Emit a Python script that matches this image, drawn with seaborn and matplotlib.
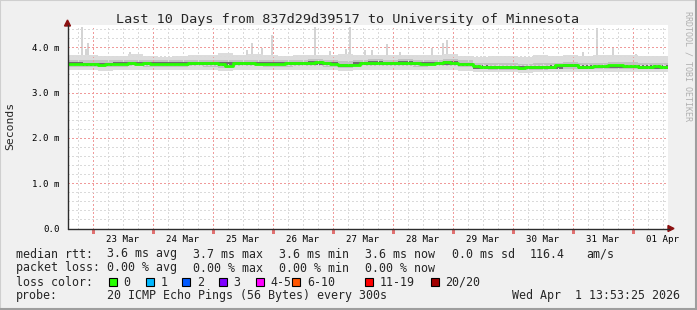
import numpy as np
import pandas as pd
import matplotlib
matplotlib.use("Agg")
import matplotlib.pyplot as plt
import seaborn as sns
from matplotlib.patches import Rectangle, Polygon
from matplotlib.lines import Line2D

# ---------------- data ----------------
start = pd.Timestamp("2026-03-22 13:53:25")
end = start + pd.Timedelta(days=10)

# median rtt (ms), 3-hour bins
median_ms = [3.64, 3.64, 3.64, 3.63, 3.62, 3.63, 3.64, 3.64, 3.66, 3.64,
             3.65, 3.64, 3.64, 3.64, 3.64, 3.64, 3.65, 3.66, 3.66, 3.65,
             3.63, 3.59, 3.66, 3.66, 3.66, 3.64, 3.64, 3.64, 3.64, 3.65,
             3.65, 3.66, 3.66, 3.67, 3.65, 3.64, 3.60, 3.60, 3.61, 3.66,
             3.66, 3.66, 3.66, 3.65, 3.66, 3.66, 3.66, 3.64, 3.64, 3.66,
             3.67, 3.66, 3.63, 3.63, 3.58, 3.56, 3.56, 3.56, 3.56, 3.56,
             3.54, 3.56, 3.57, 3.57, 3.57, 3.60, 3.62, 3.60, 3.57, 3.57,
             3.58, 3.58, 3.61, 3.60, 3.59, 3.59, 3.57, 3.57, 3.58, 3.57]

# smoke bands (ms), 6-hour bins
smoke_hi1 = [3.84, 3.82, 3.80, 3.80, 3.85, 3.80, 3.79, 3.80, 3.82, 3.84,
             3.88, 3.82, 3.86, 3.83, 3.80, 3.82, 3.84, 3.82, 3.85, 3.82,
             3.83, 3.84, 3.82, 3.83, 3.84, 3.86, 3.80, 3.78, 3.80, 3.80,
             3.79, 3.82, 3.80, 3.82, 3.80, 3.82, 3.84, 3.82, 3.80, 3.80]
smoke_lo1 = [3.50, 3.49, 3.48, 3.50, 3.50, 3.49, 3.50, 3.50, 3.50, 3.49,
             3.48, 3.50, 3.50, 3.50, 3.50, 3.50, 3.50, 3.49, 3.47, 3.50,
             3.50, 3.50, 3.50, 3.50, 3.50, 3.49, 3.48, 3.45, 3.45, 3.45,
             3.44, 3.45, 3.46, 3.46, 3.45, 3.46, 3.46, 3.45, 3.46, 3.46]
smoke_hi2 = [3.72, 3.71, 3.71, 3.72, 3.73, 3.72, 3.72, 3.72, 3.73, 3.73,
             3.72, 3.73, 3.73, 3.72, 3.72, 3.73, 3.74, 3.72, 3.70, 3.73,
             3.74, 3.73, 3.74, 3.73, 3.73, 3.74, 3.72, 3.66, 3.65, 3.65,
             3.64, 3.65, 3.66, 3.68, 3.66, 3.66, 3.68, 3.67, 3.66, 3.66]
smoke_lo2 = [3.57, 3.56, 3.56, 3.57, 3.58, 3.57, 3.57, 3.57, 3.58, 3.57,
             3.55, 3.58, 3.58, 3.57, 3.57, 3.58, 3.58, 3.57, 3.54, 3.58,
             3.58, 3.58, 3.58, 3.57, 3.58, 3.58, 3.56, 3.51, 3.50, 3.50,
             3.49, 3.50, 3.51, 3.53, 3.51, 3.51, 3.52, 3.52, 3.51, 3.51]
smoke_hi3 = [3.67, 3.66, 3.66, 3.67, 3.68, 3.67, 3.67, 3.67, 3.68, 3.68,
             3.67, 3.68, 3.68, 3.67, 3.67, 3.68, 3.69, 3.67, 3.64, 3.68,
             3.69, 3.68, 3.69, 3.68, 3.68, 3.69, 3.66, 3.60, 3.59, 3.59,
             3.58, 3.59, 3.60, 3.63, 3.60, 3.61, 3.62, 3.61, 3.60, 3.60]
smoke_lo3 = [3.60, 3.59, 3.59, 3.60, 3.61, 3.60, 3.60, 3.60, 3.61, 3.60,
             3.58, 3.61, 3.61, 3.60, 3.60, 3.61, 3.61, 3.60, 3.57, 3.61,
             3.61, 3.61, 3.61, 3.60, 3.61, 3.61, 3.59, 3.53, 3.52, 3.52,
             3.51, 3.52, 3.53, 3.56, 3.53, 3.54, 3.55, 3.54, 3.53, 3.53]

# max-ping spikes: hours after start, value (ms)
spike_hours = [5.8, 7.4, 8.2, 25.0, 71.8, 73.8, 77.8, 81.8, 99.0, 105.0,
               111.4, 113.0, 119.0, 121.8, 127.8, 133.0, 145.8, 150.2, 151.8,
               206.2, 211.8, 218.2, 227.4]
spike_vals = [4.44, 3.96, 4.09, 3.90, 3.95, 4.09, 3.98, 4.27, 4.44, 3.92,
              3.96, 4.44, 3.93, 3.95, 4.07, 3.90, 3.98, 4.09, 4.16,
              3.90, 4.42, 3.98, 3.86]

ytick_vals = [0, 1, 2, 3, 4]
ytick_labels = ["0.0", "1.0 m", "2.0 m", "3.0 m", "4.0 m"]

loss_labels = ["0", "1", "2", "3", "4-5", "6-10", "11-19", "20/20"]
loss_colors = ["#26ff00", "#00b8ff", "#0059ff", "#7e00ff", "#ff00ff",
               "#ff5500", "#ff0000", "#a10000"]

# ---------------- figure ----------------
sns.set_theme(style="white")
plt.rcParams["font.family"] = ["DejaVu Sans Mono", "DejaVu Sans"]

W, H = 697, 310
fig = plt.figure(figsize=(W / 100, H / 100), dpi=100, facecolor="#f0f0f0")


def P(px, py):
    return (px / W, 1 - py / H)


x0, x1 = 67.5, 667.5
ytop, ybot = 24.65, 228.5
ax = fig.add_axes([x0 / W, 1 - ybot / H, (x1 - x0) / W, (ybot - ytop) / H])
ax.set_facecolor("white")
for s in ax.spines.values():
    s.set_visible(False)

med_t = list(pd.date_range(start, periods=len(median_ms), freq="3h")) + [end]
med_v = median_ms + [median_ms[-1]]
sm_t = list(pd.date_range(start, periods=len(smoke_hi1), freq="6h")) + [end]


def ext(a):
    return a + [a[-1]]


# spikes (max pings)
sp_t = [start + pd.Timedelta(hours=h) for h in spike_hours]
ax.bar(sp_t, np.array(spike_vals) - 3.6, bottom=3.6, width=0.8 / 24,
       color="#d4d4d4", linewidth=0, zorder=1)

ax.fill_between(sm_t, ext(smoke_lo1), ext(smoke_hi1), step="post",
                color="#dcdcdc", linewidth=0, zorder=2)
ax.fill_between(sm_t, ext(smoke_lo2), ext(smoke_hi2), step="post",
                color="#c2c2c2", linewidth=0, zorder=3)
ax.fill_between(sm_t, ext(smoke_lo3), ext(smoke_hi3), step="post",
                color="#6e6e6e", linewidth=0, zorder=4)

# grid
dash = (0, (1, 2))
gkw = dict(lw=0.75, ls=dash, zorder=5, antialiased=False)
for t in pd.date_range("2026-03-22 18:00", end, freq="6h"):
    col = "#f09a9a" if t.hour == 0 else "#dadada"
    ax.axvline(t, color=col, **gkw)
for v in np.arange(0.2, 4.5, 0.2):
    col = "#f09a9a" if abs(v - round(v)) < 1e-6 else "#dadada"
    ax.axhline(v, color=col, **gkw)

sns.lineplot(x=med_t, y=med_v, ax=ax, color="#26ff00", lw=2.0,
             drawstyle="steps-post", estimator=None, zorder=6)

ax.set_xlim(start, end)
ax.set_ylim(0, 4.5)
noons = pd.date_range("2026-03-23 12:00", periods=10, freq="D")
ax.set_xticks(noons)
ax.set_xticklabels([t.strftime("%d %b") for t in noons])
ax.set_yticks(ytick_vals)
ax.set_yticklabels(ytick_labels)
ax.tick_params(axis="both", length=0, labelsize=6.6, colors="black")
ax.tick_params(axis="x", pad=4.6)
ax.tick_params(axis="y", pad=5.4)
ax.set_xlabel("")
ax.set_ylabel("")

# small red tick marks at major grid positions outside the plot
for t in pd.date_range("2026-03-23", end, freq="D"):
    ax.plot([t, t], [-0.04, -0.09], color="#e07070", lw=0.75, clip_on=False,
            antialiased=False, zorder=7)

# axes lines & arrows
axis_col = "#2c2c2c"
arrow_col = "#8b1010"
fig.add_artist(Line2D([P(x0, ybot)[0], P(669, ybot)[0]],
                      [P(x0, ybot)[1], P(669, ybot)[1]], color=axis_col, lw=1.0))
fig.add_artist(Line2D([P(x0, ybot)[0], P(x0, 25)[0]],
                      [P(x0, ybot)[1], P(x0, 25)[1]], color=axis_col, lw=1.0))
fig.add_artist(Polygon([P(x0 - 3, 26), P(x0 + 3, 26), P(x0, 20)],
                       closed=True, color=arrow_col, transform=fig.transFigure))
fig.add_artist(Polygon([P(668, ybot - 3), P(668, ybot + 3), P(674, ybot)],
                       closed=True, color=arrow_col, transform=fig.transFigure))

# frame shades
fig.add_artist(Rectangle((0, 0), 1, 1, transform=fig.transFigure, fill=False,
                         edgecolor="#cfcfcf", lw=1.5))
fig.add_artist(Line2D([0, 1], [1 / H, 1 / H], color="#9e9e9e", lw=1.5))
fig.add_artist(Line2D([1 - 1 / W, 1 - 1 / W], [0, 1], color="#9e9e9e", lw=1.5))

# texts
fig.text(*P(348, 22.5), "Last 10 Days from 837d29d39517 to University of Minnesota",
         ha="center", va="baseline", fontsize=9.7)
fig.text(*P(10, 126), "Seconds", rotation=90, ha="center", va="center", fontsize=8.2)
fig.text(*P(688, 66), "RRDTOOL / TOBI OETIKER", rotation=270, ha="center",
         va="center", fontsize=6.0, color="#b0b0b0")

fs = 8.4
rows = [257.5, 271.5, 285.5, 299.0]
fig.text(*P(16, rows[0]), "median rtt:", fontsize=fs, va="baseline")
for x, s in [(107, "3.6 ms avg"), (193, "3.7 ms max"), (279, "3.6 ms min"),
             (365, "3.6 ms now"), (452, "0.0 ms sd"), (530, "116.4"), (586, "am/s")]:
    fig.text(*P(x, rows[0]), s, fontsize=fs, va="baseline")
fig.text(*P(16, rows[1]), "packet loss:", fontsize=fs, va="baseline")
for x, s in [(107, "0.00 % avg"), (193, "0.00 % max"), (279, "0.00 % min"),
             (365, "0.00 % now")]:
    fig.text(*P(x, rows[1]), s, fontsize=fs, va="baseline")
fig.text(*P(16, rows[2]), "loss color:", fontsize=fs, va="baseline")
box_x = [108.7, 145.7, 182.3, 219.0, 255.7, 292.3, 365.0, 431.0]
for bx, lab, col in zip(box_x, loss_labels, loss_colors):
    fig.add_artist(Rectangle(P(bx, rows[2]), 8 / W, 8 / H, transform=fig.transFigure,
                             facecolor=col, edgecolor="black", lw=0.8))
    fig.text(*P(bx + 14.5, rows[2]), lab, fontsize=fs, va="baseline")
fig.text(*P(16, rows[3]), "probe:", fontsize=fs, va="baseline")
fig.text(*P(107, rows[3]), "20 ICMP Echo Pings (56 Bytes) every 300s",
         fontsize=fs, va="baseline")
fig.text(*P(680, rows[3]), "Wed Apr  1 13:53:25 2026", fontsize=fs,
         va="baseline", ha="right")

fig.savefig("out.png", dpi=100, facecolor=fig.get_facecolor())
